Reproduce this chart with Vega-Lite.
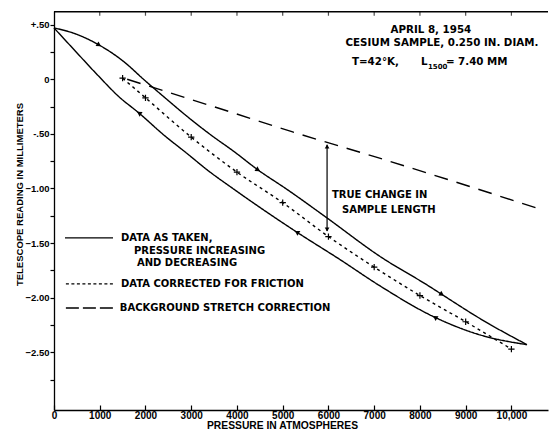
{
  "$schema": "https://vega.github.io/schema/vega-lite/v6.json",
  "width": 494,
  "height": 399,
  "autosize": {"type": "none"},
  "padding": {"left": 54, "top": 11, "right": 1, "bottom": 20},
  "background": "white",
  "resolve": {"scale": {"x": "independent"}, "axis": {"x": "independent", "y": "independent"}},
  "config": {
    "view": {"stroke": null},
    "font": "Liberation Sans",
    "axis": {
      "grid": false,
      "domainColor": "black",
      "domainWidth": 1.3,
      "tickColor": "black",
      "tickWidth": 1.2,
      "labelColor": "black",
      "labelFont": "Liberation Sans",
      "labelFontWeight": "bold",
      "labelFontSize": 9.5,
      "titleFont": "Liberation Sans",
      "titleFontWeight": "bold",
      "titleFontSize": 9.5,
      "titleColor": "black"
    },
    "text": {"font": "DejaVu Sans", "fontWeight": "bold", "fontSize": 10, "color": "black"}
  },
  "datasets": {
    "curves": [
      {"p": 0, "v": 0.47, "series": "taken", "branch": "up"},
      {"p": 440, "v": 0.42, "series": "taken", "branch": "up"},
      {"p": 985, "v": 0.314, "series": "taken", "branch": "up"},
      {"p": 1530, "v": 0.16, "series": "taken", "branch": "up"},
      {"p": 1970, "v": -0.005, "series": "taken", "branch": "up"},
      {"p": 2400, "v": -0.16, "series": "taken", "branch": "up"},
      {"p": 2910, "v": -0.34, "series": "taken", "branch": "up"},
      {"p": 3430, "v": -0.51, "series": "taken", "branch": "up"},
      {"p": 3930, "v": -0.66, "series": "taken", "branch": "up"},
      {"p": 4460, "v": -0.83, "series": "taken", "branch": "up"},
      {"p": 5100, "v": -1.01, "series": "taken", "branch": "up"},
      {"p": 5970, "v": -1.27, "series": "taken", "branch": "up"},
      {"p": 7120, "v": -1.62, "series": "taken", "branch": "up"},
      {"p": 8220, "v": -1.9, "series": "taken", "branch": "up"},
      {"p": 8480, "v": -1.97, "series": "taken", "branch": "up"},
      {"p": 9310, "v": -2.19, "series": "taken", "branch": "up"},
      {"p": 10340, "v": -2.43, "series": "taken", "branch": "up"},
      {"p": 0, "v": 0.47, "series": "taken", "branch": "down"},
      {"p": 440, "v": 0.27, "series": "taken", "branch": "down"},
      {"p": 950, "v": 0.04, "series": "taken", "branch": "down"},
      {"p": 1420, "v": -0.16, "series": "taken", "branch": "down"},
      {"p": 1860, "v": -0.31, "series": "taken", "branch": "down"},
      {"p": 2400, "v": -0.51, "series": "taken", "branch": "down"},
      {"p": 2910, "v": -0.68, "series": "taken", "branch": "down"},
      {"p": 3350, "v": -0.83, "series": "taken", "branch": "down"},
      {"p": 3910, "v": -1.0, "series": "taken", "branch": "down"},
      {"p": 5310, "v": -1.4, "series": "taken", "branch": "down"},
      {"p": 6250, "v": -1.65, "series": "taken", "branch": "down"},
      {"p": 7120, "v": -1.89, "series": "taken", "branch": "down"},
      {"p": 8330, "v": -2.18, "series": "taken", "branch": "down"},
      {"p": 9310, "v": -2.34, "series": "taken", "branch": "down"},
      {"p": 10340, "v": -2.43, "series": "taken", "branch": "down"},
      {"p": 1500, "v": 0.01, "series": "corrected", "branch": "c"},
      {"p": 2000, "v": -0.17, "series": "corrected", "branch": "c"},
      {"p": 3000, "v": -0.53, "series": "corrected", "branch": "c"},
      {"p": 4000, "v": -0.85, "series": "corrected", "branch": "c"},
      {"p": 5000, "v": -1.13, "series": "corrected", "branch": "c"},
      {"p": 6000, "v": -1.44, "series": "corrected", "branch": "c"},
      {"p": 7000, "v": -1.72, "series": "corrected", "branch": "c"},
      {"p": 8000, "v": -1.98, "series": "corrected", "branch": "c"},
      {"p": 9000, "v": -2.22, "series": "corrected", "branch": "c"},
      {"p": 10000, "v": -2.47, "series": "corrected", "branch": "c"},
      {"p": 1600, "v": 0.0, "series": "background", "branch": "b"},
      {"p": 3860, "v": -0.3, "series": "background", "branch": "b"},
      {"p": 5200, "v": -0.48, "series": "background", "branch": "b"},
      {"p": 7100, "v": -0.72, "series": "background", "branch": "b"},
      {"p": 10560, "v": -1.18, "series": "background", "branch": "b"}
    ],
    "arrows": [
      {"p": 985, "v": 0.314, "branch": "up"},
      {"p": 4460, "v": -0.83, "branch": "up"},
      {"p": 8480, "v": -1.97, "branch": "up"},
      {"p": 1860, "v": -0.31, "branch": "down"},
      {"p": 5310, "v": -1.4, "branch": "down"},
      {"p": 8330, "v": -2.18, "branch": "down"}
    ],
    "topTicks": [
      {"p": 1000}, {"p": 2000}, {"p": 3000}, {"p": 4000}, {"p": 5000},
      {"p": 6000}, {"p": 7000}, {"p": 8000}, {"p": 9000}, {"p": 10000}
    ]
  },
  "layer": [
    {
      "data": {"name": "curves"},
      "mark": {"type": "line", "color": "black", "strokeWidth": 1.4, "interpolate": "monotone"},
      "encoding": {
        "x": {
          "field": "p", "type": "quantitative",
          "scale": {"domain": [0, 10800], "nice": false, "zero": false},
          "axis": {
            "orient": "bottom",
            "title": "PRESSURE IN ATMOSPHERES",
            "titleFontSize": 10.3,
            "titleX": 228, "titleY": 10, "titleBaseline": "top", "titleAlign": "center",
            "values": [0, 1000, 2000, 3000, 4000, 5000, 6000, 7000, 8000, 9000, 10000],
            "labelExpr": "datum.value == 10000 ? '10,000' : format(datum.value, 'd')",
            "labelFontSize": 10,
            "tickSize": -5, "labelPadding": 5, "labelFlush": false, "labelOverlap": false
          }
        },
        "y": {
          "field": "v", "type": "quantitative",
          "scale": {"domain": [-3.028, 0.625], "nice": false, "zero": false},
          "axis": {
            "orient": "left",
            "title": "TELESCOPE READING IN MILLIMETERS",
            "titleX": -35, "titleY": 183, "titleAngle": -90, "titleBaseline": "middle", "titleAlign": "center",
            "values": [0.5, 0.25, 0, -0.25, -0.5, -0.75, -1, -1.25, -1.5, -1.75, -2, -2.25, -2.5, -2.75],
            "labelExpr": "abs(datum.value*2 - round(datum.value*2)) > 0.001 ? '' : (datum.value == 0.5 ? '+.50' : (datum.value == 0 ? '0' : (datum.value == -0.5 ? '-.50' : format(datum.value, '.2f'))))",
            "tickSize": 4, "labelPadding": 1, "labelFlush": false, "labelOverlap": false
          }
        },
        "detail": {"field": "branch"},
        "strokeDash": {
          "field": "series", "type": "nominal",
          "scale": {"domain": ["taken", "corrected", "background"], "range": [[1, 0], [3, 3.5], [14, 9]]},
          "legend": null
        }
      }
    },
    {
      "data": {"name": "curves"},
      "transform": [{"filter": "datum.series == 'corrected'"}],
      "mark": {"type": "point", "shape": "M-1,0L1,0M0,-1L0,1", "filled": false, "color": "black", "strokeWidth": 1.2, "size": 40, "opacity": 1},
      "encoding": {
        "x": {"field": "p", "type": "quantitative", "scale": {"domain": [0, 10800], "nice": false, "zero": false}, "axis": null},
        "y": {"field": "v", "type": "quantitative", "axis": null}
      }
    },
    {
      "data": {"name": "arrows"},
      "transform": [{"filter": "datum.branch == 'up'"}],
      "mark": {"type": "point", "shape": "triangle-right", "filled": true, "color": "black", "size": 30, "angle": 32, "opacity": 1},
      "encoding": {
        "x": {"field": "p", "type": "quantitative", "scale": {"domain": [0, 10800], "nice": false, "zero": false}, "axis": null},
        "y": {"field": "v", "type": "quantitative", "axis": null}
      }
    },
    {
      "data": {"name": "arrows"},
      "transform": [{"filter": "datum.branch == 'down'"}],
      "mark": {"type": "point", "shape": "triangle-right", "filled": true, "color": "black", "size": 30, "angle": 212, "opacity": 1},
      "encoding": {
        "x": {"field": "p", "type": "quantitative", "scale": {"domain": [0, 10800], "nice": false, "zero": false}, "axis": null},
        "y": {"field": "v", "type": "quantitative", "axis": null}
      }
    },
    {
      "data": {"values": [{}]},
      "mark": {"type": "rule", "color": "black", "strokeWidth": 1.2},
      "encoding": {
        "x": {"datum": 5970, "type": "quantitative", "scale": {"domain": [0, 10800], "nice": false, "zero": false}, "axis": null},
        "y": {"datum": -0.6, "type": "quantitative", "axis": null},
        "y2": {"datum": -1.39}
      }
    },
    {
      "data": {"values": [{}]},
      "mark": {"type": "point", "shape": "triangle-up", "filled": true, "color": "black", "size": 22, "opacity": 1},
      "encoding": {
        "x": {"datum": 5970, "type": "quantitative", "scale": {"domain": [0, 10800], "nice": false, "zero": false}, "axis": null},
        "y": {"datum": -0.615, "type": "quantitative", "axis": null}
      }
    },
    {
      "data": {"values": [{}]},
      "mark": {"type": "point", "shape": "triangle-down", "filled": true, "color": "black", "size": 22, "opacity": 1},
      "encoding": {
        "x": {"datum": 5970, "type": "quantitative", "scale": {"domain": [0, 10800], "nice": false, "zero": false}, "axis": null},
        "y": {"datum": -1.375, "type": "quantitative", "axis": null}
      }
    },
    {
      "data": {"values": [{}]},
      "mark": {"type": "rule", "color": "black", "strokeWidth": 1.3},
      "encoding": {
        "x": {"datum": 240, "type": "quantitative", "scale": {"domain": [0, 10800], "nice": false, "zero": false}, "axis": null},
        "x2": {"datum": 1290},
        "y": {"datum": -1.453, "type": "quantitative", "axis": null}
      }
    },
    {
      "data": {"values": [{}]},
      "mark": {"type": "rule", "color": "black", "strokeWidth": 1.3, "strokeDash": [3, 2.5]},
      "encoding": {
        "x": {"datum": 260, "type": "quantitative", "scale": {"domain": [0, 10800], "nice": false, "zero": false}, "axis": null},
        "x2": {"datum": 1330},
        "y": {"datum": -1.874, "type": "quantitative", "axis": null}
      }
    },
    {
      "data": {"values": [{}]},
      "mark": {"type": "rule", "color": "black", "strokeWidth": 1.3, "strokeDash": [13, 4]},
      "encoding": {
        "x": {"datum": 260, "type": "quantitative", "scale": {"domain": [0, 10800], "nice": false, "zero": false}, "axis": null},
        "x2": {"datum": 1330},
        "y": {"datum": -2.094, "type": "quantitative", "axis": null}
      }
    },
    {
      "data": {"values": [{}]},
      "mark": {"type": "text", "align": "left", "baseline": "middle"},
      "encoding": {
        "x": {"datum": 1464, "type": "quantitative", "scale": {"domain": [0, 10800], "nice": false, "zero": false}, "axis": null},
        "y": {"datum": -1.453, "type": "quantitative", "axis": null},
        "text": {"value": "DATA AS TAKEN,"}
      }
    },
    {
      "data": {"values": [{}]},
      "mark": {"type": "text", "align": "left", "baseline": "middle"},
      "encoding": {
        "x": {"datum": 1749, "type": "quantitative", "scale": {"domain": [0, 10800], "nice": false, "zero": false}, "axis": null},
        "y": {"datum": -1.572, "type": "quantitative", "axis": null},
        "text": {"value": "PRESSURE INCREASING"}
      }
    },
    {
      "data": {"values": [{}]},
      "mark": {"type": "text", "align": "left", "baseline": "middle"},
      "encoding": {
        "x": {"datum": 1814, "type": "quantitative", "scale": {"domain": [0, 10800], "nice": false, "zero": false}, "axis": null},
        "y": {"datum": -1.682, "type": "quantitative", "axis": null},
        "text": {"value": "AND DECREASING"}
      }
    },
    {
      "data": {"values": [{}]},
      "mark": {"type": "text", "align": "left", "baseline": "middle"},
      "encoding": {
        "x": {"datum": 1464, "type": "quantitative", "scale": {"domain": [0, 10800], "nice": false, "zero": false}, "axis": null},
        "y": {"datum": -1.874, "type": "quantitative", "axis": null},
        "text": {"value": "DATA CORRECTED FOR FRICTION"}
      }
    },
    {
      "data": {"values": [{}]},
      "mark": {"type": "text", "align": "left", "baseline": "middle"},
      "encoding": {
        "x": {"datum": 1440, "type": "quantitative", "scale": {"domain": [0, 10800], "nice": false, "zero": false}, "axis": null},
        "y": {"datum": -2.094, "type": "quantitative", "axis": null},
        "text": {"value": "BACKGROUND STRETCH CORRECTION"}
      }
    },
    {
      "data": {"values": [{}]},
      "mark": {"type": "text", "align": "left", "baseline": "middle"},
      "encoding": {
        "x": {"datum": 6077, "type": "quantitative", "scale": {"domain": [0, 10800], "nice": false, "zero": false}, "axis": null},
        "y": {"datum": -1.06, "type": "quantitative", "axis": null},
        "text": {"value": "TRUE CHANGE IN"}
      }
    },
    {
      "data": {"values": [{}]},
      "mark": {"type": "text", "align": "left", "baseline": "middle"},
      "encoding": {
        "x": {"datum": 6295, "type": "quantitative", "scale": {"domain": [0, 10800], "nice": false, "zero": false}, "axis": null},
        "y": {"datum": -1.197, "type": "quantitative", "axis": null},
        "text": {"value": "SAMPLE LENGTH"}
      }
    },
    {
      "data": {"values": [{}]},
      "mark": {"type": "text", "align": "center", "baseline": "middle", "fontSize": 10.3},
      "encoding": {
        "x": {"datum": 8240, "type": "quantitative", "scale": {"domain": [0, 10800], "nice": false, "zero": false}, "axis": null},
        "y": {"datum": 0.451, "type": "quantitative", "axis": null},
        "text": {"value": "APRIL 8, 1954"}
      }
    },
    {
      "data": {"values": [{}]},
      "mark": {"type": "text", "align": "center", "baseline": "middle", "fontSize": 10.3},
      "encoding": {
        "x": {"datum": 8481, "type": "quantitative", "scale": {"domain": [0, 10800], "nice": false, "zero": false}, "axis": null},
        "y": {"datum": 0.33, "type": "quantitative", "axis": null},
        "text": {"value": "CESIUM SAMPLE, 0.250 IN. DIAM."}
      }
    },
    {
      "data": {"values": [{}]},
      "mark": {"type": "text", "align": "left", "baseline": "middle", "fontSize": 10.3},
      "encoding": {
        "x": {"datum": 6514, "type": "quantitative", "scale": {"domain": [0, 10800], "nice": false, "zero": false}, "axis": null},
        "y": {"datum": 0.16, "type": "quantitative", "axis": null},
        "text": {"value": "T=42°K,"}
      }
    },
    {
      "data": {"values": [{}]},
      "mark": {"type": "text", "align": "left", "baseline": "middle", "fontSize": 10.3},
      "encoding": {
        "x": {"datum": 8022, "type": "quantitative", "scale": {"domain": [0, 10800], "nice": false, "zero": false}, "axis": null},
        "y": {"datum": 0.16, "type": "quantitative", "axis": null},
        "text": {"value": "L"}
      }
    },
    {
      "data": {"values": [{}]},
      "mark": {"type": "text", "align": "left", "baseline": "middle", "fontSize": 7},
      "encoding": {
        "x": {"datum": 8175, "type": "quantitative", "scale": {"domain": [0, 10800], "nice": false, "zero": false}, "axis": null},
        "y": {"datum": 0.11, "type": "quantitative", "axis": null},
        "text": {"value": "1500"}
      }
    },
    {
      "data": {"values": [{}]},
      "mark": {"type": "text", "align": "left", "baseline": "middle", "fontSize": 10.3},
      "encoding": {
        "x": {"datum": 8568, "type": "quantitative", "scale": {"domain": [0, 10800], "nice": false, "zero": false}, "axis": null},
        "y": {"datum": 0.16, "type": "quantitative", "axis": null},
        "text": {"value": "= 7.40 MM"}
      }
    },
    {
      "data": {"values": [{}]},
      "mark": {"type": "rule", "color": "black", "strokeWidth": 1.4},
      "encoding": {
        "y": {"datum": 0.618, "type": "quantitative", "axis": null}
      }
    },
    {
      "data": {"name": "topTicks"},
      "mark": {"type": "tick", "color": "black", "orient": "vertical", "size": 4, "thickness": 1.2},
      "encoding": {
        "x": {"field": "p", "type": "quantitative", "scale": {"domain": [0, 10800], "nice": false, "zero": false}, "axis": null},
        "y": {"datum": 0.6, "type": "quantitative", "axis": null}
      }
    }
  ]
}
